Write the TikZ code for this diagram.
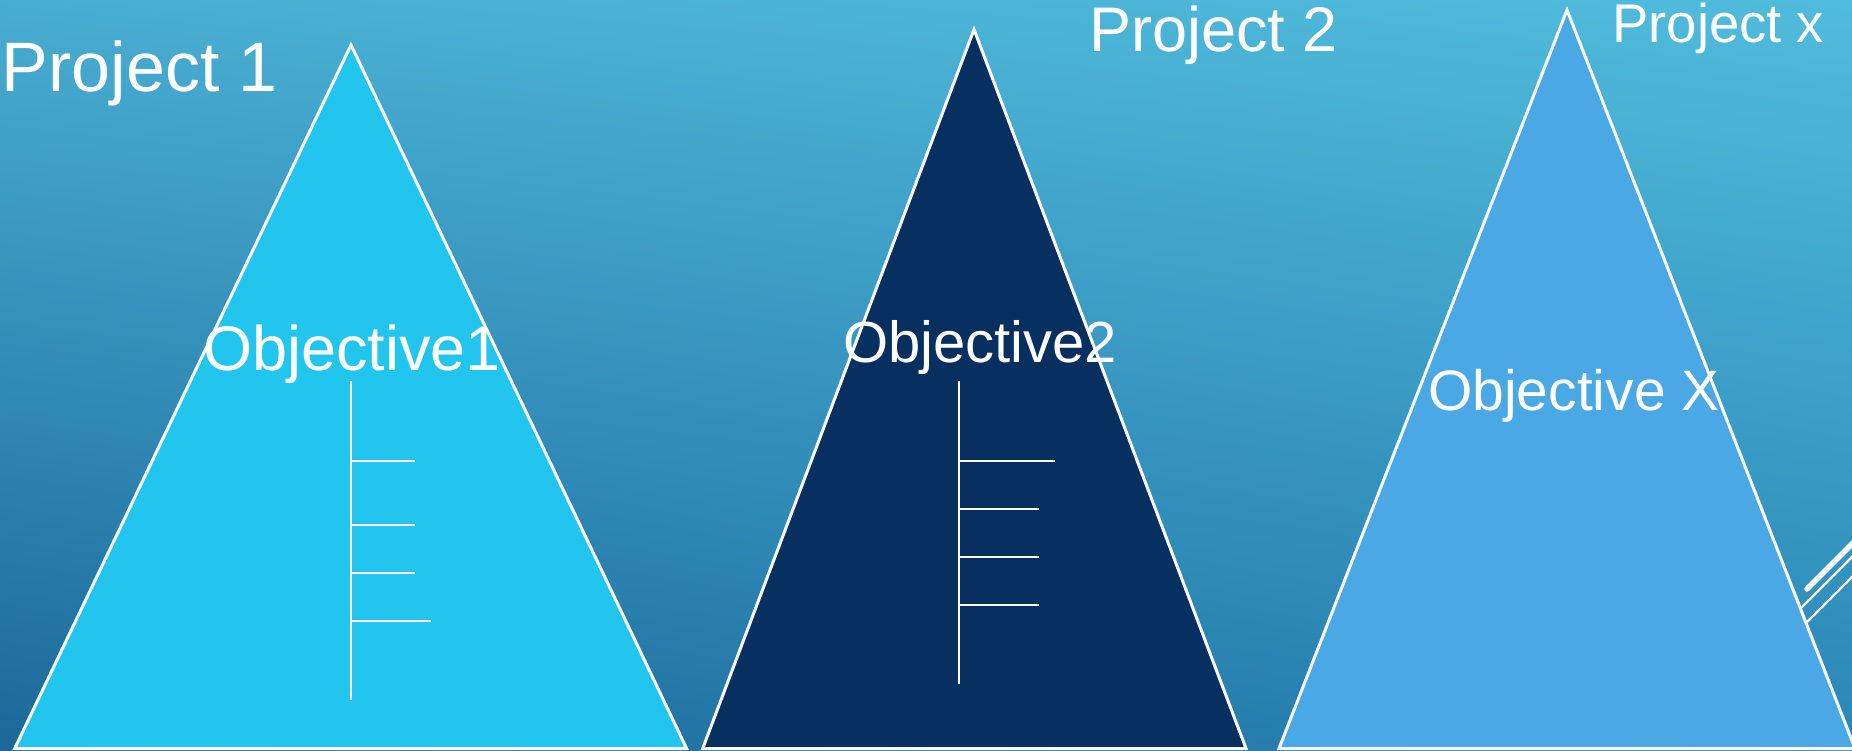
\documentclass[tikz,border=0pt]{standalone}
\usepackage{fontspec}
\setmainfont{Liberation Sans}
\usetikzlibrary{shadings}
\definecolor{bgUL}{HTML}{48ADD2}
\definecolor{bgUR}{HTML}{50BCDC}
\definecolor{bgLL}{HTML}{1B6899}
\definecolor{bgLR}{HTML}{2A86B6}
\definecolor{triA}{HTML}{22C5EE}
\definecolor{triB}{HTML}{072F60}
\definecolor{triC}{HTML}{4AA8E5}
\begin{document}
\begin{tikzpicture}[x=1pt,y=-1pt,
  tri/.style={draw=white, line width=3pt, line join=miter},
  tree/.style={draw=white, line width=2.4pt},
  lbl/.style={text=white, inner sep=0pt, anchor=base west},
  deco/.style={draw=white, line width=2.2pt},
  decothick/.style={draw=white, line width=5.5pt, line cap=round},
]
\useasboundingbox (0,0) rectangle (1852,751);
\shade[upper left=bgUL, upper right=bgUR, lower left=bgLL, lower right=bgLR] (0,0) rectangle (1852,751);

% decorative lines (behind the triangles)
\begin{scope}
\clip (0,0) rectangle (1852,751);
\coordinate (k1) at (1807,589);
\coordinate (k2) at (1880,516);
\coordinate (t1a) at (1770,639);
\coordinate (t1b) at (1880,529);
\coordinate (t2a) at (1770,659);
\coordinate (t2b) at (1880,549);
\draw[decothick] (k1) -- (k2);
\draw[deco] (t1a) -- (t1b);
\draw[deco] (t2a) -- (t2b);
\end{scope}

% triangles
\coordinate (A1) at (351,45);
\coordinate (A2) at (14.7,748.5);
\coordinate (A3) at (686.6,748.5);
\coordinate (B1) at (974,29.5);
\coordinate (B2) at (702.7,748.5);
\coordinate (B3) at (1246,748.5);
\coordinate (C1) at (1567,10);
\coordinate (C2) at (1279,748.5);
\coordinate (C3) at (1855,748.5);
\filldraw[tri, fill=triA] (A1) -- (A2) -- (A3) -- cycle;
\filldraw[tri, fill=triB] (B1) -- (B2) -- (B3) -- cycle;
\filldraw[tri, fill=triC] (C1) -- (C2) -- (C3) -- cycle;

% tree 1
\coordinate (a0) at (351,381);
\coordinate (a9) at (351,700);
\draw[tree] (a0) -- (a9);
\coordinate (a1) at (351,461); \coordinate (a1e) at (415,461);
\coordinate (a2) at (351,525); \coordinate (a2e) at (415,525);
\coordinate (a3) at (351,573); \coordinate (a3e) at (415,573);
\coordinate (a4) at (351,621); \coordinate (a4e) at (431,621);
\draw[tree] (a1) -- (a1e);
\draw[tree] (a2) -- (a2e);
\draw[tree] (a3) -- (a3e);
\draw[tree] (a4) -- (a4e);

% tree 2
\coordinate (b0) at (959,381);
\coordinate (b9) at (959,684);
\draw[tree] (b0) -- (b9);
\coordinate (b1) at (959,461); \coordinate (b1e) at (1055,461);
\coordinate (b2) at (959,509); \coordinate (b2e) at (1039,509);
\coordinate (b3) at (959,557); \coordinate (b3e) at (1039,557);
\coordinate (b4) at (959,605); \coordinate (b4e) at (1039,605);
\draw[tree] (b1) -- (b1e);
\draw[tree] (b2) -- (b2e);
\draw[tree] (b3) -- (b3e);
\draw[tree] (b4) -- (b4e);

% labels
\node[lbl, font=\fontsize{70}{70}\selectfont] (p1) at (1.5,92) {Project 1};
\node[lbl, font=\fontsize{63}{63}\selectfont] (p2) at (1089,52) {Project 2};
\node[lbl, font=\fontsize{54.5}{54.5}\selectfont] (px) at (1612,43) {Project x};
\node[lbl, font=\fontsize{63}{63}\selectfont] (o1) at (203,370) {Objective1};
\node[lbl, font=\fontsize{58}{58}\selectfont] (o2) at (843,362.6) {Objective2};
\node[lbl, font=\fontsize{57}{57}\selectfont] (ox) at (1428,410) {Objective X};
\end{tikzpicture}
\end{document}
